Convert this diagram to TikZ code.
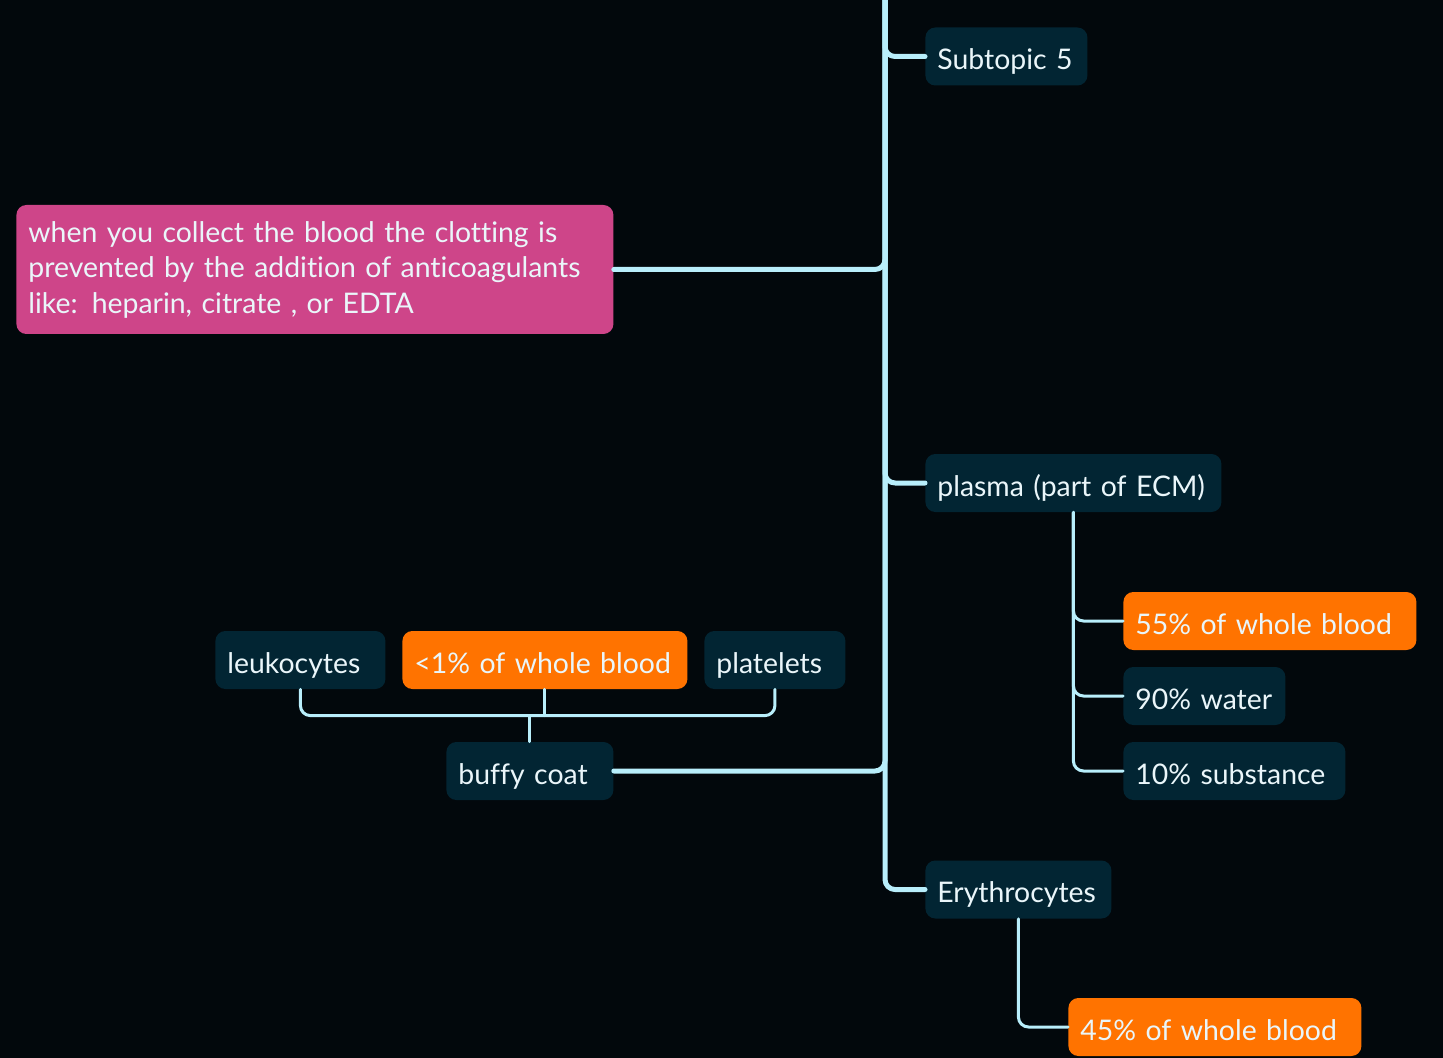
\documentclass[tikz,border=0pt]{standalone}
\usepackage{fontspec}
\setmainfont{Lato}[Ligatures=NoCommon]
\usetikzlibrary{positioning}
\definecolor{bgcol}{HTML}{02080C}
\definecolor{topiccol}{HTML}{022533}
\definecolor{hotcol}{HTML}{FF7300}
\definecolor{pinkcol}{HTML}{CE4589}
\definecolor{linecol}{HTML}{B8EEFB}
\definecolor{txtcol}{HTML}{EAF6FA}
\begin{document}
\begin{tikzpicture}[x=0.5pt, y=-0.5pt, font=\fontsize{14.2}{17.75}\selectfont, line join=round, line cap=round,
  topic/.style={fill=topiccol, text=txtcol, rounded corners=5pt, minimum height=29pt, inner xsep=6pt, inner ysep=0pt, text height=13.2pt, text depth=0pt, anchor=west, align=left},
  hot/.style={topic, fill=hotcol},
  summary/.style={topic, fill=pinkcol, minimum height=64.5pt, text height=, text depth=},
  trunk/.style={linecol, line width=2.5pt, rounded corners=5pt},
  twig/.style={linecol, line width=1.5pt, rounded corners=5pt}]
\def\W{1443} \def\H{1058}
\fill[bgcol] (0,0) rectangle (\W,\H);
\clip (0,0) rectangle (\W,\H);
\coordinate (top) at (885,-40);
% main topics
\node[topic, text width=69pt] (sub) at (925,56.5) {Subtopic 5};
\node[summary, text width=286.5pt] (note) at (16,269.5) {when you collect the blood the clotting is\\prevented by the addition of anticoagulants\\like: heparin, citrate , or EDTA};
\node[topic, text width=136pt] (plasma) at (925,483) {plasma (part of ECM)};
\node[topic, text width=71.5pt] (buffy) at (446,771) {buffy coat};
\node[topic, text width=81pt] (ery) at (925,889.5) {Erythrocytes};
% plasma
\node[hot, text width=134.5pt] (p55) at (1123,621) {55\% of whole blood};
\node[topic, text width=69pt] (water) at (1123,696) {90\% water};
\node[topic, text width=99pt] (subst) at (1123,771) {10\% substance};
% buffy coat
\node[topic, text width=73pt] (leuko) at (215,660) {leukocytes};
\node[hot, text width=130.5pt] (low) at (402,660) {<1\% of whole blood};
\node[topic, text width=58.5pt] (plat) at (704,660) {platelets};
% erythrocytes
\node[hot, text width=134.5pt] (e45) at (1068,1027) {45\% of whole blood};
\draw[trunk] (top) |- (ery.west);
\draw[trunk] (sub.west) -| (top);
\draw[trunk] (note.east) -| (top);
\draw[trunk] (plasma.west) -| (top);
\draw[trunk] (buffy.east) -| (top);
\draw[twig] (plasma.south) |- (p55.west);
\draw[twig] (plasma.south) |- (water.west);
\draw[twig] (plasma.south) |- (subst.west);
\draw[twig] (ery.south) |- (e45.west);
\draw[twig] (buffy.north) -- ++(0,-26) coordinate (bj);
\draw[twig] (leuko.south) |- (bj) -| (plat.south);
\draw[twig] (low.south) -- (low.south |- bj);
\end{tikzpicture}
\end{document}
